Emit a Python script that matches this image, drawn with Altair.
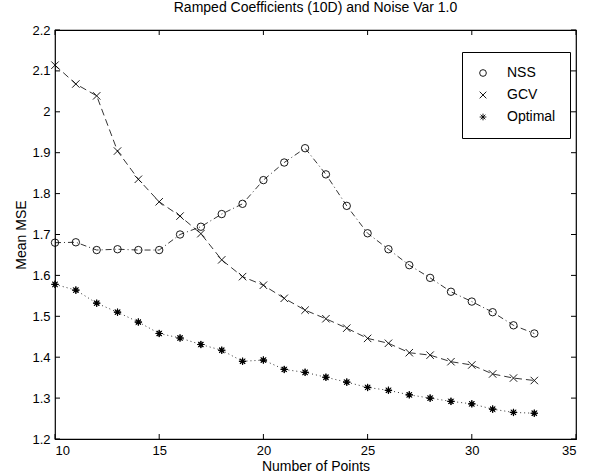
import altair as alt
import pandas as pd

# ---- data ----
n_points = list(range(10, 34))
nss = [1.680, 1.681, 1.662, 1.664, 1.662, 1.662, 1.700, 1.719, 1.750, 1.775,
       1.833, 1.876, 1.911, 1.847, 1.770, 1.703, 1.664, 1.625, 1.594, 1.560,
       1.536, 1.510, 1.478, 1.458]
gcv = [2.114, 2.068, 2.039, 1.904, 1.835, 1.780, 1.745, 1.702, 1.638, 1.597,
       1.576, 1.544, 1.515, 1.494, 1.471, 1.446, 1.434, 1.411, 1.405, 1.389,
       1.381, 1.359, 1.349, 1.343]
optimal = [1.578, 1.564, 1.532, 1.510, 1.486, 1.458, 1.447, 1.431, 1.417, 1.390,
           1.393, 1.370, 1.363, 1.351, 1.339, 1.326, 1.319, 1.308, 1.300, 1.292,
           1.286, 1.273, 1.265, 1.263]
series_names = ["NSS", "GCV", "Optimal"]
x_ticks = [10, 15, 20, 25, 30, 35]
y_ticks = [1.2, 1.3, 1.4, 1.5, 1.6, 1.7, 1.8, 1.9, 2.0, 2.1, 2.2]

rows = []
for name, vals in zip(series_names, [nss, gcv, optimal]):
    for xv, yv in zip(n_points, vals):
        rows.append({"series": name, "line": name + " line", "x": xv, "y": yv})
df = pd.DataFrame(rows)
df_opt = df[df["series"] == "Optimal"]
df_xt = pd.DataFrame({"x": x_ticks})
df_yt = pd.DataFrame({"y": y_ticks})

W, H = 521, 409
FONT = "Liberation Sans"
X_PATH = "M-1,-1L1,1M-1,1L1,-1"
AST_PATH = "M-1,0L1,0M0,-1L0,1M-0.7,-0.7L0.7,0.7M-0.7,0.7L0.7,-0.7"

xscale = alt.Scale(domain=[10, 35], nice=False, zero=False)
yscale = alt.Scale(domain=[1.2, 2.2], nice=False, zero=False)
xaxis = alt.Axis(values=x_ticks, ticks=False, grid=False, domain=False,
                 labelPadding=5, titlePadding=2)
yaxis = alt.Axis(values=y_ticks, ticks=False, grid=False, domain=False,
                 format="~g", labelPadding=5, titlePadding=3)


def X():
    return alt.X("x:Q", scale=xscale, axis=xaxis, title="Number of Points")


def Y():
    return alt.Y("y:Q", scale=yscale, axis=yaxis, title="Mean MSE")


line_names = [s + " line" for s in series_names]
lines = alt.Chart(df).mark_line(color="black", strokeWidth=0.8).encode(
    x=X(), y=Y(),
    detail="line:N",
    strokeDash=alt.StrokeDash(
        "line:N",
        scale=alt.Scale(domain=line_names, range=[[6, 3, 1, 3], [7, 4], [1, 3]]),
        legend=None,
    ),
)

points = alt.Chart(df).mark_point(filled=False, color="black", opacity=1,
                                  size=55, strokeWidth=0.9).encode(
    x=X(), y=Y(),
    shape=alt.Shape(
        "series:N",
        scale=alt.Scale(domain=series_names, range=["circle", X_PATH, AST_PATH]),
        legend=alt.Legend(
            title=None, orient="none", legendX=407, legendY=22,
            strokeColor="black", padding=14, rowPadding=8,
            labelFont=FONT, labelFontSize=14, labelOffset=17, labelColor="black",
            symbolSize=45, symbolStrokeWidth=0.9, symbolStrokeColor="black",
            symbolFillColor="white", fillColor="white",
        ),
    ),
)

# bolder asterisks for the Optimal series
opt_bold = alt.Chart(df_opt).mark_point(filled=False, color="black", opacity=1,
                                        shape=AST_PATH, size=50, strokeWidth=1.2).encode(
    x=X(), y=Y())

tick_len = 5
xt_bottom = alt.Chart(df_xt).mark_rule(color="black", strokeWidth=1).encode(
    x=X(), y=alt.value(H), y2=alt.value(H - tick_len))
xt_top = alt.Chart(df_xt).mark_rule(color="black", strokeWidth=1).encode(
    x=X(), y=alt.value(0), y2=alt.value(tick_len))
yt_left = alt.Chart(df_yt).mark_rule(color="black", strokeWidth=1).encode(
    y=Y(), x=alt.value(0), x2=alt.value(tick_len))
yt_right = alt.Chart(df_yt).mark_rule(color="black", strokeWidth=1).encode(
    y=Y(), x=alt.value(W), x2=alt.value(W - tick_len))

chart = alt.layer(lines, points, opt_bold, xt_bottom, xt_top, yt_left, yt_right).properties(
    width=W, height=H,
    title=alt.Title("Ramped Coefficients (10D) and Noise Var 1.0",
                    font=FONT, fontSize=14, fontWeight="normal", color="black", offset=9),
    padding={"left": 55, "top": 30, "right": 18, "bottom": 37},
    autosize=alt.AutoSizeParams(type="none"),
    background="white",
).configure_view(
    stroke="black", strokeWidth=1.2
).configure_axis(
    labelFont=FONT, labelFontSize=13, labelColor="black",
    titleFont=FONT, titleFontSize=14, titleFontWeight="normal", titleColor="black",
)

chart.save("out.html", embed_options={"renderer": "svg", "actions": False})
